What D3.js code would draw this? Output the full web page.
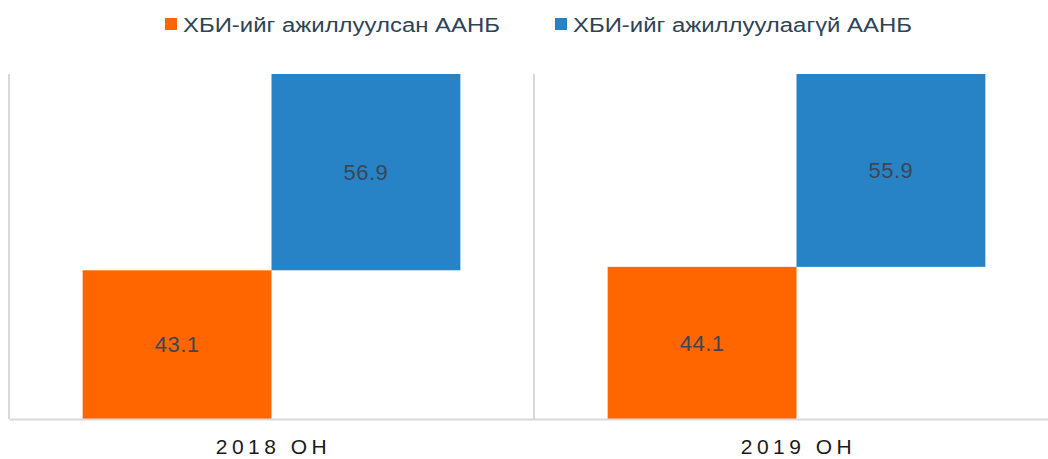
<!DOCTYPE html>
<html>
<head>
  <meta charset="utf-8">
  <title>ХБИ ААНБ</title>
  <style>
    body { margin: 0; background: #fff; }
    svg { display: block; font-family: "Liberation Sans", Arial, sans-serif; }
  </style>
</head>
<body>
  <svg width="1048" height="459"></svg>
  <script src="https://d3js.org/d3.v7.min.js"></script>
  <script>
  // data
  var years = ["2018 ОН", "2019 ОН"];
  var seriesNames = ["ХБИ-ийг ажиллуулсан ААНБ", "ХБИ-ийг ажиллуулаагүй ААНБ"];
  var withFdi = [43.1, 44.1];
  var withoutFdi = [56.9, 55.9];
  var colors = ["#ff6600", "#2882c6"];

  var svg = d3.select("svg"),
      margin = {top: 74, left: 9, bottom: 40},
      plotW = 1050,
      plotH = 459 - margin.top - margin.bottom,
      g = svg.append("g").attr("transform", "translate(" + margin.left + "," + margin.top + ")");

  var rows = years.map(function(y, i) { return {year: y, a: withFdi[i], b: withoutFdi[i]}; });
  var stack = d3.stack().keys(["a", "b"]);
  var layers = stack(rows);

  var x = d3.scaleBand().domain(years).range([0, plotW]);
  var xi = d3.scaleBand().domain(["a", "b"]).range([0, x.bandwidth()]).paddingOuter(0.39);
  var y = d3.scaleLinear().domain([0, 100]).range([plotH, 0]);

  // category separators
  g.selectAll(".sep")
    .data(years)
    .enter().append("line")
    .attr("x1", function(d) { return x(d); })
    .attr("x2", function(d) { return x(d); })
    .attr("y1", 0)
    .attr("y2", plotH)
    .attr("stroke", "#d9d9d9")
    .attr("stroke-width", 2);

  // bars - each series sits in its own sub-band (waterfall look)
  layers.forEach(function(layer, li) {
    g.selectAll(".bar" + li)
      .data(layer)
      .enter().append("rect")
      .attr("x", function(d) { return x(d.data.year) + xi(layer.key); })
      .attr("width", xi.bandwidth())
      .attr("y", function(d) { return y(d[1]); })
      .attr("height", function(d) { return y(d[0]) - y(d[1]); })
      .attr("fill", colors[li]);

    g.selectAll(".lbl" + li)
      .data(layer)
      .enter().append("text")
      .attr("x", function(d) { return x(d.data.year) + xi(layer.key) + xi.bandwidth() / 2; })
      .attr("y", function(d) { return (y(d[0]) + y(d[1])) / 2; })
      .attr("dy", "0.35em")
      .attr("text-anchor", "middle")
      .attr("fill", "#3c4654")
      .style("font-size", "22px")
      .style("letter-spacing", "0.5px")
      .text(function(d) { return (d[1] - d[0]).toFixed(1); });
  });

  // x axis
  var xAxis = g.append("g")
    .attr("transform", "translate(0," + plotH + ")")
    .call(d3.axisBottom(x).tickSize(0).tickPadding(20));
  xAxis.select(".domain").attr("stroke", "#d9d9d9").attr("stroke-width", 2);
  xAxis.selectAll("text")
    .attr("fill", "#1a1a1a")
    .style("font-size", "21px")
    .style("letter-spacing", "4.5px")
    .attr("dx", "2px");

  // legend
  var legendX = [165, 555];
  var legendW = [317, 339];
  var legend = svg.selectAll(".legend")
    .data(seriesNames)
    .enter().append("g")
    .attr("transform", function(d, i) { return "translate(" + legendX[i] + ",18)"; });
  legend.append("rect")
    .attr("width", 12)
    .attr("height", 12)
    .attr("fill", function(d, i) { return colors[i]; });
  legend.append("text")
    .attr("x", 18)
    .attr("y", 13.5)
    .attr("fill", "#2e4356")
    .style("font-size", "20px")
    .attr("textLength", function(d, i) { return legendW[i]; })
    .attr("lengthAdjust", "spacingAndGlyphs")
    .text(function(d) { return d; });
  </script>
</body>
</html>
